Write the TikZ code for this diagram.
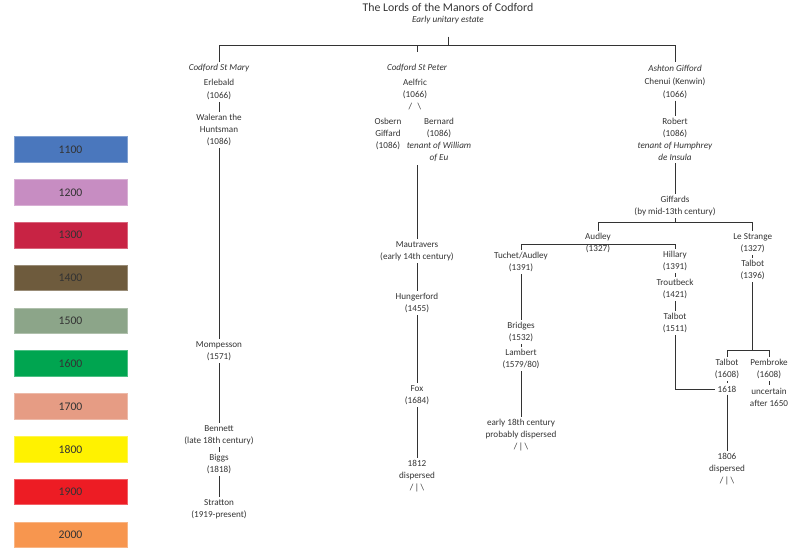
\documentclass[tikz,border=0pt]{standalone}
\usepackage{fontspec}
\setmainfont{Carlito}
\definecolor{ink}{HTML}{333333}
\definecolor{c1100}{HTML}{4A77BD}
\definecolor{c1200}{HTML}{C78DC2}
\definecolor{c1300}{HTML}{C82344}
\definecolor{c1400}{HTML}{6E5B3D}
\definecolor{c1500}{HTML}{8CA589}
\definecolor{c1600}{HTML}{00A550}
\definecolor{c1700}{HTML}{E69C84}
\definecolor{c1800}{HTML}{FFF200}
\definecolor{c1900}{HTML}{ED1C24}
\definecolor{c2000}{HTML}{F7964F}
\begin{document}
\begin{tikzpicture}[x=0.025cm,y=-0.025cm,lord/.style={align=center,text=ink,inner sep=1.5pt,font=\fontsize{6.5}{8.6}\selectfont},manor/.style={lord,font=\fontsize{6.5}{8.6}\selectfont\itshape},link/.style={draw=ink,line width=0.7pt},era/.style={minimum width=2.825cm,minimum height=0.64cm,inner sep=0pt,text=ink,font=\fontsize{8.3}{9}\selectfont,line width=0.5pt}]
\def\xa{219}
\def\xb{417}
\def\xc{675}
\def\xd{521}
\def\xe{752.7}
\def\xf{727}
\useasboundingbox (0,0) rectangle (800,554);

\foreach \yr [count=\i] in {1100,1200,1300,1400,1500,1600,1700,1800,1900,2000}
  \node[era,fill=c\yr,draw=c\yr!70!white] (era\yr) at (70.5,149.5+42.8*\i-42.8) {\yr};

\node[lord,font=\fontsize{8.4}{10}\selectfont] (title) at (448,7.5) {The Lords of the Manors of Codford};
\node[manor] (sub) at (448,20) {Early unitary estate};
\coordinate (root) at (448,36.7);
\coordinate (estate) at (448,45.7);

\node[manor] (stmary) at (\xa,68) {Codford St Mary};
\node[lord] (erlebald) at (\xa,89.5) {Erlebald\\(1066)};
\node[lord] (waleran) at (\xa,130) {Waleran the\\Huntsman\\(1086)};
\node[lord] (mompesson) at (\xa,351) {Mompesson\\(1571)};
\node[lord] (bennett) at (\xa,435) {Bennett\\(late 18th century)};
\node[lord] (biggs) at (\xa,464) {Biggs\\(1818)};
\node[lord] (stratton) at (\xa,509) {Stratton\\(1919-present)};

\node[manor] (stpeter) at (\xb,68) {Codford St Peter};
\node[lord] (aelfric) at (415,94.5) {Aelfric\\(1066)\\/\hspace{0.6em}\textbackslash};
\node[lord] (osbern) at (388,134) {Osbern\\Giffard\\(1086)};
\node[lord] (bernard) at (439,139.5) {Bernard\\(1086)\\\textit{tenant of William}\\\textit{of Eu}};
\coordinate (split) at (\xb,165);
\node[lord] (mautravers) at (\xb,251) {Mautravers\\(early 14th century)};
\node[lord] (hungerford) at (\xb,303) {Hungerford\\(1455)};
\node[lord] (fox) at (\xb,395) {Fox\\(1684)};
\node[lord] (d1812) at (\xb,476) {1812\\dispersed\\/\,|\,\textbackslash};

\node[manor] (ashton) at (\xc,68) {Ashton Gifford};
\node[lord] (chenui) at (\xc,88.3) {Chenui (Kenwin)\\(1066)};
\node[lord] (robert) at (\xc,139.5) {Robert\\(1086)\\\textit{tenant of Humphrey}\\\textit{de Insula}};
\node[lord] (giffards) at (\xc,206) {Giffards\\(by mid-13th century)};
\coordinate (gbar) at (\xc,222.7);
\node[lord] (audley) at (598,243.3) {Audley\\(1327)};
\coordinate (abar) at (598,244.3);
\node[lord] (tuchet) at (\xd,262) {Tuchet/Audley\\(1391)};
\node[lord] (bridges) at (\xd,332) {Bridges\\(1532)};
\node[lord] (lambert) at (\xd,359) {Lambert\\(1579/80)};
\node[lord] (early) at (\xd,435) {early 18th century\\probably dispersed\\/\,|\,\textbackslash};
\node[lord] (hillary) at (\xc,261) {Hillary\\(1391)};
\node[lord] (troutbeck) at (\xc,289) {Troutbeck\\(1421)};
\node[lord] (talbotb) at (\xc,323) {Talbot\\(1511)};
\node[lord] (lestrange) at (\xe,243.3) {Le Strange\\(1327)};
\node[lord] (talbota) at (\xe,270) {Talbot\\(1396)};
\coordinate (pbar) at (\xe,350.7);
\node[lord] (talbotc) at (\xf,369) {Talbot\\(1608)};
\node[lord] (d1618) at (\xf,389) {1618};
\node[lord] (pembroke) at (769,369) {Pembroke\\(1608)};
\node[lord] (uncertain) at (769,397) {uncertain\\after 1650};
\node[lord] (d1806) at (\xf,469) {1806\\dispersed\\/\,|\,\textbackslash};

\draw[link] (root) -- (estate);
\draw[link] (stmary.north) |- (estate) -| (ashton.north);
\draw[link,shorten >=7pt] (stpeter.north |- estate) -- (stpeter.north);
\draw[link] (erlebald) -- (waleran);
\draw[link] (waleran) -- (mompesson);
\draw[link] (mompesson) -- (bennett);
\draw[link] (bennett) -- (biggs);
\draw[link] (biggs) -- (stratton);
\draw[link] (split) -- (mautravers);
\draw[link] (mautravers) -- (hungerford);
\draw[link] (hungerford) -- (fox);
\draw[link] (fox) -- (d1812);
\draw[link] (chenui) -- (robert);
\draw[link] (robert) -- (giffards);
\draw[link] (giffards) -- (gbar);
\draw[link] (audley.north) |- (gbar) -| (lestrange.north);
\draw[link] (tuchet.north) |- (abar) -| (hillary.north);
\draw[link] (tuchet) -- (bridges);
\draw[link] (bridges) -- (lambert);
\draw[link] (lambert) -- (early);
\draw[link] (hillary) -- (troutbeck);
\draw[link] (troutbeck) -- (talbotb);
\draw[link] (talbotb.south) |- (d1618.west);
\draw[link] (lestrange) -- (talbota);
\draw[link] (talbota) -- (pbar);
\draw[link] (talbotc.north) |- (pbar) -| (pembroke.north);
\draw[link] (talbotc) -- (d1618);
\draw[link] (pembroke) -- (uncertain);
\draw[link] (d1618) -- (d1806);
\end{tikzpicture}
\end{document}
